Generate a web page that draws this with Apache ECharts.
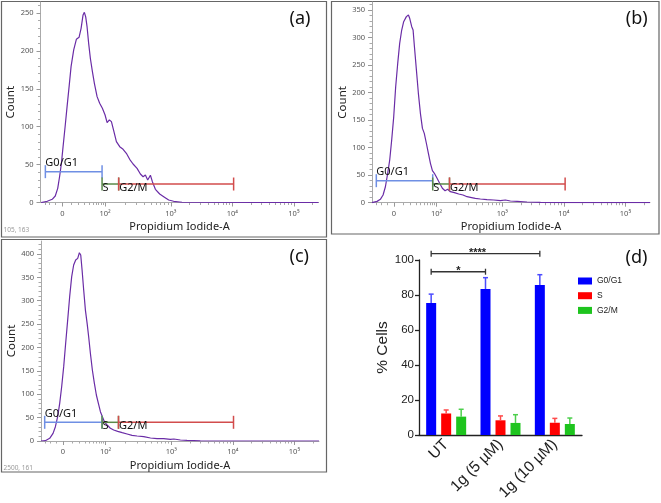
<!DOCTYPE html>
<html><head><meta charset="utf-8">
<script src="https://cdn.jsdelivr.net/npm/echarts@6/dist/echarts.min.js"></script>
<style>html,body{margin:0;padding:0;background:#fff}#c{width:661px;height:503px}</style>
</head><body><div id="c"></div>
<script>
// ===== DATA =====
// Flow histograms: x in display (biexponential) scale units, y = Count
const histA_x = [0.89,0.99,1.07,1.12,1.16,1.19,1.22,1.247,1.28,1.312,1.345,1.377,1.42,1.463,1.507,1.54,1.572,1.593,1.615,1.637,1.663,1.691,1.724,1.756,1.80,1.842,1.886,1.93,1.963,2.0,2.033,2.07,2.114,2.168,2.223,2.276,2.33,2.385,2.45,2.504,2.548,2.585,2.623,2.667,2.699,2.748,2.818,2.883,2.964,3.045,3.18,5.40];
const histA_y = [0,1.6,4.2,8.6,18.7,34,51.7,73.7,100,126.5,152.9,179.3,201.3,215.4,218,229.9,247.5,251,245,232,210,190,172.6,157.3,139.7,131,124.3,115.5,105.4,108.9,106.7,94.8,80.3,73.7,70.2,64.9,57,50.8,45.1,37.6,34,36.3,29.7,35.9,27.5,17.4,11.2,7.7,3.3,1.6,0.3,0];

const histB_x = [0.88,0.963,1.016,1.06,1.098,1.135,1.168,1.2,1.233,1.265,1.298,1.33,1.363,1.395,1.439,1.472,1.493,1.526,1.548,1.57,1.602,1.634,1.667,1.70,1.73,1.764,1.797,1.83,1.862,1.894,1.938,1.98,2.024,2.068,2.11,2.154,2.22,2.29,2.36,2.426,2.48,2.56,2.642,2.75,2.859,2.967,3.049,3.13,3.24,3.4,3.62,4.0,5.40];
const histB_y = [0,2.4,6.1,14,29,53.4,77.6,114,156,210.7,253,289.5,313.7,328.8,338,341,335,319.7,313.7,283.4,241,198.7,162.4,135,126,108,89.7,71.6,58.1,53.4,44.3,35.2,26.2,21.8,24.3,20,18.2,15.8,14,10.9,9.8,8,6.7,5.5,4.9,3.6,4.9,3.1,2.4,1.3,0.5,0,0];

const histC_x = [0.88,0.951,1.021,1.076,1.114,1.151,1.184,1.216,1.249,1.281,1.314,1.346,1.379,1.411,1.444,1.477,1.504,1.526,1.548,1.574,1.602,1.63,1.655,1.683,1.715,1.748,1.78,1.813,1.846,1.878,1.911,1.955,2.008,2.062,2.127,2.2,2.28,2.36,2.442,2.55,2.66,2.767,2.875,2.984,3.04,3.146,3.255,3.47,5.40];
const histC_y = [0,0.7,5.7,16.4,30.6,52,80.6,116,159,209,259,308.7,351.5,376.5,387,390.7,402.8,397.9,365.8,323,280,251.7,223,187.6,151.9,123.4,98.4,80.6,62.7,52,41.3,34.2,27.2,23.5,20.7,17.8,15,12.1,10.7,9.3,6.4,5,5,3.6,4.3,2.1,1.4,0.3,0];

// Gates: name, from, to, level(count)
const gateNames = ['G0/G1','S','G2/M'];
const gatesA_from = [0.959,1.881,2.151];
const gatesA_to   = [1.881,2.151,4.02];
const gatesA_lvl  = [40.7,24.4,24.4];
const gatesB_from = [0.95,1.867,2.14];
const gatesB_to   = [1.867,2.14,4.02];
const gatesB_lvl  = [40,34,34];
const gatesC_from = [0.94,1.873,2.14];
const gatesC_to   = [1.873,2.14,4.01];
const gatesC_lvl  = [40,40,40];

// Flow x-axis ticks (display units) and labels
const xTickPos = [1.235,1.93,3,4,5];
const xTickLabels = ['0','10²','10³','10⁴','10⁵'];
const xMinorPos = [0.95,1.03,1.12,1.38,1.50,1.594,1.669,1.73,1.781,1.826,1.865,1.899,
  2.252,2.44,2.574,2.678,2.762,2.834,2.896,2.951,
  3.301,3.477,3.602,3.699,3.778,3.845,3.903,3.954,
  4.301,4.477,4.602,4.699,4.778,4.845,4.903,4.954,5.301];
const yTicksA = [0,50,100,150,200,250];
const yTicksB = [0,50,100,150,200,250,300,350];
const yTicksC = [0,50,100,150,200,250,300,350,400];

// Bar chart (d)
const categories = ['UT','1g (5 µM)','1g (10 µM)'];
const seriesNames = ['G0/G1','S','G2/M'];
const g0g1 = [75.5,83.4,85.7];
const g0g1Err = [5.0,6.5,5.9];
const sPhase = [12.3,8.4,7.0];
const sErr = [2.0,2.5,2.5];
const g2m = [10.5,6.9,6.3];
const g2mErr = [4.2,4.7,3.4];
const bracketFrom = [0,0];
const bracketTo = [1,2];
const bracketLevel = [93.3,103.6];
const bracketText = ['*','****'];

// ===== STYLE / LAYOUT =====
const flowFont = 'Noto Sans, Open Sans, sans-serif';
const barFont = 'Liberation Sans, Arial, sans-serif';
const gateColors = {'G0/G1':'#6f8fe4','S':'#5a8a48','G2/M':'#d24c4c'};
const curveColor = '#6a2ca6';
const panels = [
  {hx:histA_x, hy:histA_y, gf:gatesA_from, gt:gatesA_to, gl:gatesA_lvl, grid:{left:40.5,top:2,width:278,height:200.5}, ymax:264.6, yt:yTicksA},
  {hx:histB_x, hy:histB_y, gf:gatesB_from, gt:gatesB_to, gl:gatesB_lvl, grid:{left:372,top:2,width:278,height:200.7}, ymax:364.6, yt:yTicksB},
  {hx:histC_x, hy:histC_y, gf:gatesC_from, gt:gatesC_to, gl:gatesC_lvl, grid:{left:41,top:241,width:278,height:200}, ymax:427.8, yt:yTicksC}
];
const XMIN = 0.88, XMAX = 5.40;

const grids = [], xAxes = [], yAxes = [], series = [];
panels.forEach((p, k) => {
  grids.push(p.grid);
  const minorY = [];
  for (let v = 10; v < p.ymax; v += 10) if (v % 50 !== 0) minorY.push(v);
  xAxes.push({
    type:'value', gridIndex:k, position:'bottom', min:XMIN, max:XMAX,
    name:'Propidium Iodide-A', nameLocation:'middle', nameGap:19,
    nameTextStyle:{fontFamily:flowFont, fontSize:11, color:'#222'},
    axisLine:{show:true, lineStyle:{color:'#aaa', width:1}},
    axisTick:{show:true, customValues:xTickPos, length:4, lineStyle:{color:'#999'}},
    axisLabel:{customValues:xTickPos, margin:7, fontFamily:flowFont, fontSize:7.5, color:'#555',
      formatter:(v)=>{const i = xTickPos.findIndex(q=>Math.abs(q-v)<1e-6); return i>=0?xTickLabels[i]:'';}},
    splitLine:{show:false}
  });
  xAxes.push({
    type:'value', gridIndex:k, position:'bottom', min:XMIN, max:XMAX,
    axisLine:{show:false}, axisLabel:{show:false}, splitLine:{show:false},
    axisTick:{show:true, customValues:xMinorPos, length:2.5, lineStyle:{color:'#aaa'}}
  });
  yAxes.push({
    type:'value', gridIndex:k, position:'left', min:0, max:p.ymax,
    name:'Count', nameLocation:'middle', nameGap:22,
    nameTextStyle:{fontFamily:flowFont, fontSize:11.5, color:'#222'},
    axisLine:{show:true, lineStyle:{color:'#aaa', width:1}},
    axisTick:{show:true, customValues:p.yt, length:4, lineStyle:{color:'#999'}},
    axisLabel:{customValues:p.yt, margin:7, fontFamily:flowFont, fontSize:7.5, color:'#555'},
    splitLine:{show:false}
  });
  yAxes.push({
    type:'value', gridIndex:k, position:'left', min:0, max:p.ymax,
    axisLine:{show:false}, axisLabel:{show:false}, splitLine:{show:false},
    axisTick:{show:true, customValues:minorY, length:2.5, lineStyle:{color:'#aaa'}}
  });
  series.push({
    type:'line', xAxisIndex:2*k, yAxisIndex:2*k, data:p.hx.map((x,i)=>[x,p.hy[i]]),
    showSymbol:false, symbol:'none', lineStyle:{color:curveColor, width:1.2}, silent:true, z:2
  });
  series.push({
    type:'custom', xAxisIndex:2*k, yAxisIndex:2*k, clip:false, z:3, silent:true,
    data:gateNames.map((n,i)=>[p.gf[i], p.gt[i], p.gl[i]]),
    renderItem:(params, api)=>{
      const name = gateNames[params.dataIndex];
      const c = gateColors[name];
      const a = api.coord([api.value(0), api.value(2)]);
      const b = api.coord([api.value(1), api.value(2)]);
      const h = 6.5;
      const st = {stroke:c, lineWidth:1.5};
      const above = params.dataIndex === 0;
      return {type:'group', children:[
        {type:'line', shape:{x1:a[0],y1:a[1],x2:b[0],y2:b[1]}, style:st},
        {type:'line', shape:{x1:a[0],y1:a[1]-h,x2:a[0],y2:a[1]+h}, style:st},
        {type:'line', shape:{x1:b[0],y1:b[1]-h,x2:b[0],y2:b[1]+h}, style:st},
        {type:'text', x:a[0]+(above?0:0.5), y:above? a[1]-3 : a[1]-1.5,
          style:{text:name, fill:'#111', font:'11px '+flowFont, textAlign:'left', textVerticalAlign: above?'bottom':'top'}}
      ]};
    }
  });
});

// Panel d
grids.push({left:419, top:260, width:163, height:175});
xAxes.push({
  type:'category', gridIndex:3, data:categories, position:'bottom',
  axisLine:{lineStyle:{color:'#222', width:1.3}},
  axisTick:{alignWithLabel:true, length:4, lineStyle:{color:'#222', width:1.3}},
  axisLabel:{rotate:45, fontFamily:barFont, fontSize:15.5, color:'#222', margin:7, interval:0}
});
yAxes.push({
  type:'value', gridIndex:3, min:0, max:100, interval:20, position:'left',
  name:'% Cells', nameLocation:'middle', nameGap:26,
  nameTextStyle:{fontFamily:barFont, fontSize:15.5, color:'#222'},
  axisLine:{show:true, lineStyle:{color:'#222', width:1.3}},
  axisTick:{show:true, length:4, lineStyle:{color:'#222', width:1.3}},
  axisLabel:{fontFamily:barFont, fontSize:11.5, color:'#222', margin:5},
  splitLine:{show:false}
});
const barColors = ['#0000ff','#ff0000','#1ec41e'];
const errColors = ['#4b4bff','#ff4b4b','#4ccf4c'];
const barVals = [g0g1, sPhase, g2m];
const barErrs = [g0g1Err, sErr, g2mErr];
const offsets = [-15, 0, 15];
seriesNames.forEach((n,i)=>{
  series.push({type:'bar', name:n, xAxisIndex:6, yAxisIndex:6, data:barVals[i],
    barWidth:10, barGap:'50%', itemStyle:{color:barColors[i]}, z:2});
});
seriesNames.forEach((n,i)=>{
  series.push({type:'custom', xAxisIndex:6, yAxisIndex:6, z:3, silent:true, clip:false,
    data:barVals[i].map((v,j)=>[j, v, v+barErrs[i][j]]),
    renderItem:(params, api)=>{
      const a = api.coord([api.value(0), api.value(1)]);
      const b = api.coord([api.value(0), api.value(2)]);
      const x = a[0] + offsets[i];
      const st = {stroke:errColors[i], lineWidth:1.5};
      return {type:'group', children:[
        {type:'line', shape:{x1:x,y1:a[1],x2:x,y2:b[1]}, style:st},
        {type:'line', shape:{x1:x-2.5,y1:b[1],x2:x+2.5,y2:b[1]}, style:st}
      ]};
    }});
});
const bracketShift = [0, -8];
series.push({type:'custom', xAxisIndex:6, yAxisIndex:6, z:4, silent:true, clip:false,
  data:bracketFrom.map((f,i)=>[f, bracketTo[i], bracketLevel[i]]),
  renderItem:(params, api)=>{
    const idx = params.dataIndex;
    const a = api.coord([api.value(0), api.value(2)]);
    const b = api.coord([api.value(1), api.value(2)]);
    const x1 = a[0] + offsets[0], x2 = b[0] + offsets[0], y = a[1];
    const st = {stroke:'#333', lineWidth:1.3};
    return {type:'group', children:[
      {type:'line', shape:{x1:x1,y1:y,x2:x2,y2:y}, style:st},
      {type:'line', shape:{x1:x1,y1:y-3,x2:x1,y2:y+3}, style:st},
      {type:'line', shape:{x1:x2,y1:y-3,x2:x2,y2:y+3}, style:st},
      {type:'text', x:(x1+x2)/2 + bracketShift[idx], y:y+5,
        style:{text:bracketText[idx], fill:'#222', font:'bold 11px '+barFont, textAlign:'center', textVerticalAlign:'bottom'}}
    ]};
  }});

const option = {
  animation:false,
  backgroundColor:'#fff',
  grid:grids, xAxis:xAxes, yAxis:yAxes, series:series,
  legend:{data:seriesNames, orient:'vertical', left:578, top:276.5, itemWidth:14, itemHeight:7, itemGap:5.7,
    icon:'rect', padding:0, textStyle:{fontFamily:barFont, fontSize:8.5, color:'#222'}, selectedMode:false},
  graphic:[
    {type:'rect', shape:{x:1.5,y:1.5,width:325,height:235.5}, style:{fill:'none', stroke:'#666', lineWidth:1.2}, silent:true},
    {type:'rect', shape:{x:331.5,y:1.5,width:327.5,height:232.5}, style:{fill:'none', stroke:'#666', lineWidth:1.2}, silent:true},
    {type:'rect', shape:{x:1.5,y:239.5,width:325,height:232.5}, style:{fill:'none', stroke:'#666', lineWidth:1.2}, silent:true},
    {type:'text', x:300, y:19, style:{text:'(a)', font:'18px '+flowFont, fill:'#111', textAlign:'center', textVerticalAlign:'middle'}},
    {type:'text', x:636.7, y:19, style:{text:'(b)', font:'18px '+flowFont, fill:'#111', textAlign:'center', textVerticalAlign:'middle'}},
    {type:'text', x:299.3, y:256.7, style:{text:'(c)', font:'18px '+flowFont, fill:'#111', textAlign:'center', textVerticalAlign:'middle'}},
    {type:'text', x:636.5, y:257.5, style:{text:'(d)', font:'18px '+flowFont, fill:'#111', textAlign:'center', textVerticalAlign:'middle'}},
    {type:'text', x:3.5, y:230, style:{text:'105, 163', font:'6.5px '+flowFont, fill:'#999', textAlign:'left', textVerticalAlign:'middle'}},
    {type:'text', x:3.5, y:467.7, style:{text:'2500, 161', font:'6.5px '+flowFont, fill:'#999', textAlign:'left', textVerticalAlign:'middle'}}
  ]
};
const chart = echarts.init(document.getElementById('c'));
chart.setOption(option);
</script></body></html>
